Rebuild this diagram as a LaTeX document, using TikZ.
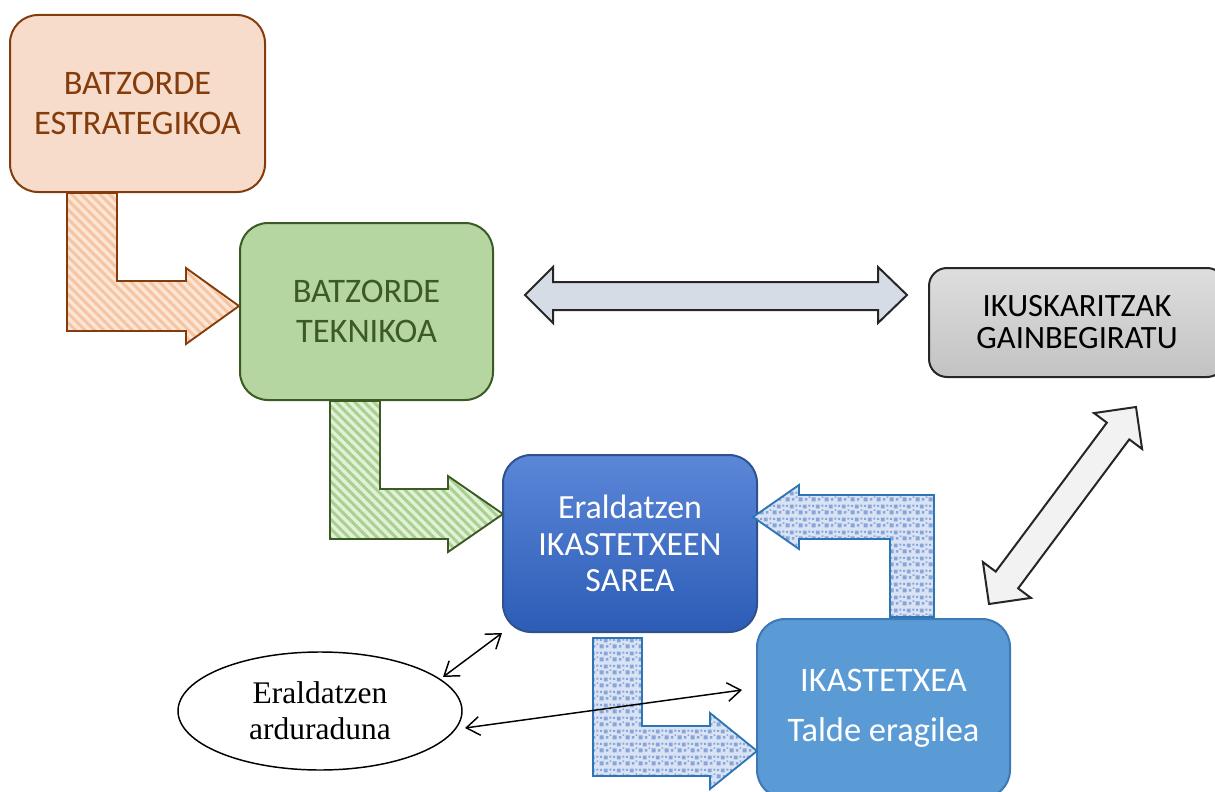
\documentclass[tikz,border=0pt]{standalone}
\usepackage{fontspec}
\setmainfont{Carlito}
\newfontfamily\timesf{Liberation Serif}
\usetikzlibrary{arrows.meta,patterns,patterns.meta,shapes.geometric}
\definecolor{bxOneFill}{HTML}{F8DCCB}
\definecolor{bxOneLine}{HTML}{843C0C}
\definecolor{bxTwoFill}{HTML}{B5D6A0}
\definecolor{bxTwoLine}{HTML}{3B5A24}
\definecolor{greyTop}{HTML}{DEDEDE}
\definecolor{greyBot}{HTML}{C2C2C2}
\definecolor{greyLine}{HTML}{262626}
\definecolor{sareaTop}{HTML}{5B87D8}
\definecolor{sareaBot}{HTML}{2C5CB6}
\definecolor{sareaLine}{HTML}{2F528F}
\definecolor{ikaFill}{HTML}{5B9BD5}
\definecolor{ikaLine}{HTML}{3D78B8}
\definecolor{orBase}{HTML}{FBE5D6}
\definecolor{orStripe}{HTML}{F6C4A0}
\definecolor{grBase}{HTML}{E2F0D9}
\definecolor{grStripe}{HTML}{A9D18E}
\definecolor{blBase}{HTML}{DAE3F3}
\definecolor{blSq}{HTML}{87A5DB}
\definecolor{blLine}{HTML}{2E75B6}
\definecolor{hArrFill}{HTML}{D6DCE5}
\definecolor{dArrFill}{HTML}{F2F2F2}
\tikzdeclarepattern{
  name=sqdots,
  type=uncolored,
  bounding box={(0,0) and (10pt,10pt)},
  tile size={(10pt,10pt)},
  code={
    \pgfpathrectangle{\pgfpoint{0.4pt}{0.4pt}}{\pgfpoint{3.2pt}{3.2pt}}
    \pgfpathrectangle{\pgfpoint{5.4pt}{1.0pt}}{\pgfpoint{2.0pt}{2.0pt}}
    \pgfpathrectangle{\pgfpoint{3.8pt}{5.2pt}}{\pgfpoint{3.0pt}{3.0pt}}
    \pgfpathrectangle{\pgfpoint{8.2pt}{6.6pt}}{\pgfpoint{1.5pt}{1.5pt}}
    \pgfpathrectangle{\pgfpoint{0.8pt}{6.4pt}}{\pgfpoint{1.6pt}{1.6pt}}
    \pgfpathrectangle{\pgfpoint{8.4pt}{3.2pt}}{\pgfpoint{1.2pt}{1.2pt}}
    \pgfusepath{fill}
  }
}
\tikzset{
  boxbase/.style={rounded corners=21pt, line width=1.5pt, align=center, inner sep=0pt,
    font=\fontsize{25.8}{30}\selectfont},
  orarrow/.style={draw=bxOneLine, line width=1.4pt, line join=miter,
    preaction={fill=orBase}, pattern={Lines[angle=-45,distance=5pt,line width=2.2pt]}, pattern color=orStripe},
  grarrow/.style={draw=bxTwoLine, line width=1.4pt, line join=miter,
    preaction={fill=grBase}, pattern={Lines[angle=-45,distance=5pt,line width=2.2pt]}, pattern color=grStripe},
  blarrow/.style={draw=blLine, line width=1.4pt, line join=miter,
    preaction={fill=blBase}, pattern=sqdots, pattern color=blSq},
  dblarrow/.style={draw=greyLine, line width=1.5pt, line join=miter},
  thin/.style={draw=black, line width=1.1pt,
    {Straight Barb[length=10pt,width=14pt]}-{Straight Barb[length=10pt,width=14pt]}}
}
\begin{document}
\begin{tikzpicture}[x=0.75pt,y=-0.75pt]
\useasboundingbox (0,0) rectangle (1215,792);
\clip (0,0) rectangle (1215,792);

% boxes
\node[boxbase, draw=bxOneLine, fill=bxOneFill, text=bxOneLine,
  minimum width=191.25pt, minimum height=132.75pt] (strat) at (137.5,103.5)
  {BATZORDE\\ESTRATEGIKOA};
\node[boxbase, draw=bxTwoLine, fill=bxTwoFill, text=bxTwoLine,
  minimum width=189.75pt, minimum height=132.75pt] (tekn) at (366.5,311.5)
  {BATZORDE\\TEKNIKOA};
\node[boxbase, rounded corners=13.5pt, draw=greyLine, top color=greyTop, bottom color=greyBot,
  text=black, font=\fontsize{24.4}{24}\selectfont,
  minimum width=222pt, minimum height=81.75pt] (ikus) at (1077,322.5)
  {IKUSKARITZAK\\GAINBEGIRATU};
\node[boxbase, draw=sareaLine, top color=sareaTop, bottom color=sareaBot, text=white,
  font=\fontsize{25.4}{27.5}\selectfont,
  minimum width=190.5pt, minimum height=132.75pt] (sarea) at (630,543.5)
  {Eraldatzen\\IKASTETXEEN\\SAREA};
\node[boxbase, draw=ikaLine, fill=ikaFill, text=white,
  minimum width=189.75pt, minimum height=134.25pt] (ika) at (883.5,708.5)
  {IKASTETXEA\\[7.5pt]Talde eragilea};
\node[ellipse, draw=black, line width=1.1pt, fill=white, inner sep=0pt,
  minimum width=213pt, minimum height=88.5pt, align=center,
  font=\timesf\fontsize{23.6}{27}\selectfont] (ardur) at (320,711)
  {Eraldatzen\\arduraduna};

% block arrows
\draw[orarrow] (67,193) -- (117,193) -- (117,281) -- (186,281) -- (186,268) -- (239,306)
  -- (186,344) -- (186,331) -- (67,331) -- cycle;
\draw[grarrow] (330,401) -- (380,401) -- (380,489) -- (448,489) -- (448,476) -- (503,514)
  -- (448,552) -- (448,539) -- (330,539) -- cycle;
\draw[blarrow] (593,638) -- (642,638) -- (642,726) -- (710,726) -- (710,713) -- (757,751)
  -- (710,789) -- (710,776) -- (593,776) -- cycle;
\draw[blarrow] (934,617) -- (934,495) -- (799,495) -- (799,485) -- (753,517)
  -- (799,549) -- (799,539) -- (890,539) -- (890,617) -- cycle;
\draw[dblarrow, fill=hArrFill] (525,295) -- (553,267) -- (553,282) -- (878,282) -- (878,267)
  -- (907,295) -- (878,323) -- (878,310) -- (553,310) -- (553,323) -- cycle;
\draw[dblarrow, fill=dArrFill] (1136,407) -- (1142.09,448.97) -- (1129.27,439.40)
  -- (1018.15,588.34) -- (1030.97,597.91) -- (989,604) -- (982.91,562.03)
  -- (995.73,571.60) -- (1106.85,422.66) -- (1094.03,413.09) -- cycle;

% thin connectors
\coordinate (ardurA) at (443,677);
\coordinate (ardurB) at (465,728);
\coordinate (ikaIn) at (742,690);
\draw[thin] (ardurA) -- (sarea.south west);
\draw[thin] (ardurB) -- (ikaIn);
\end{tikzpicture}
\end{document}
